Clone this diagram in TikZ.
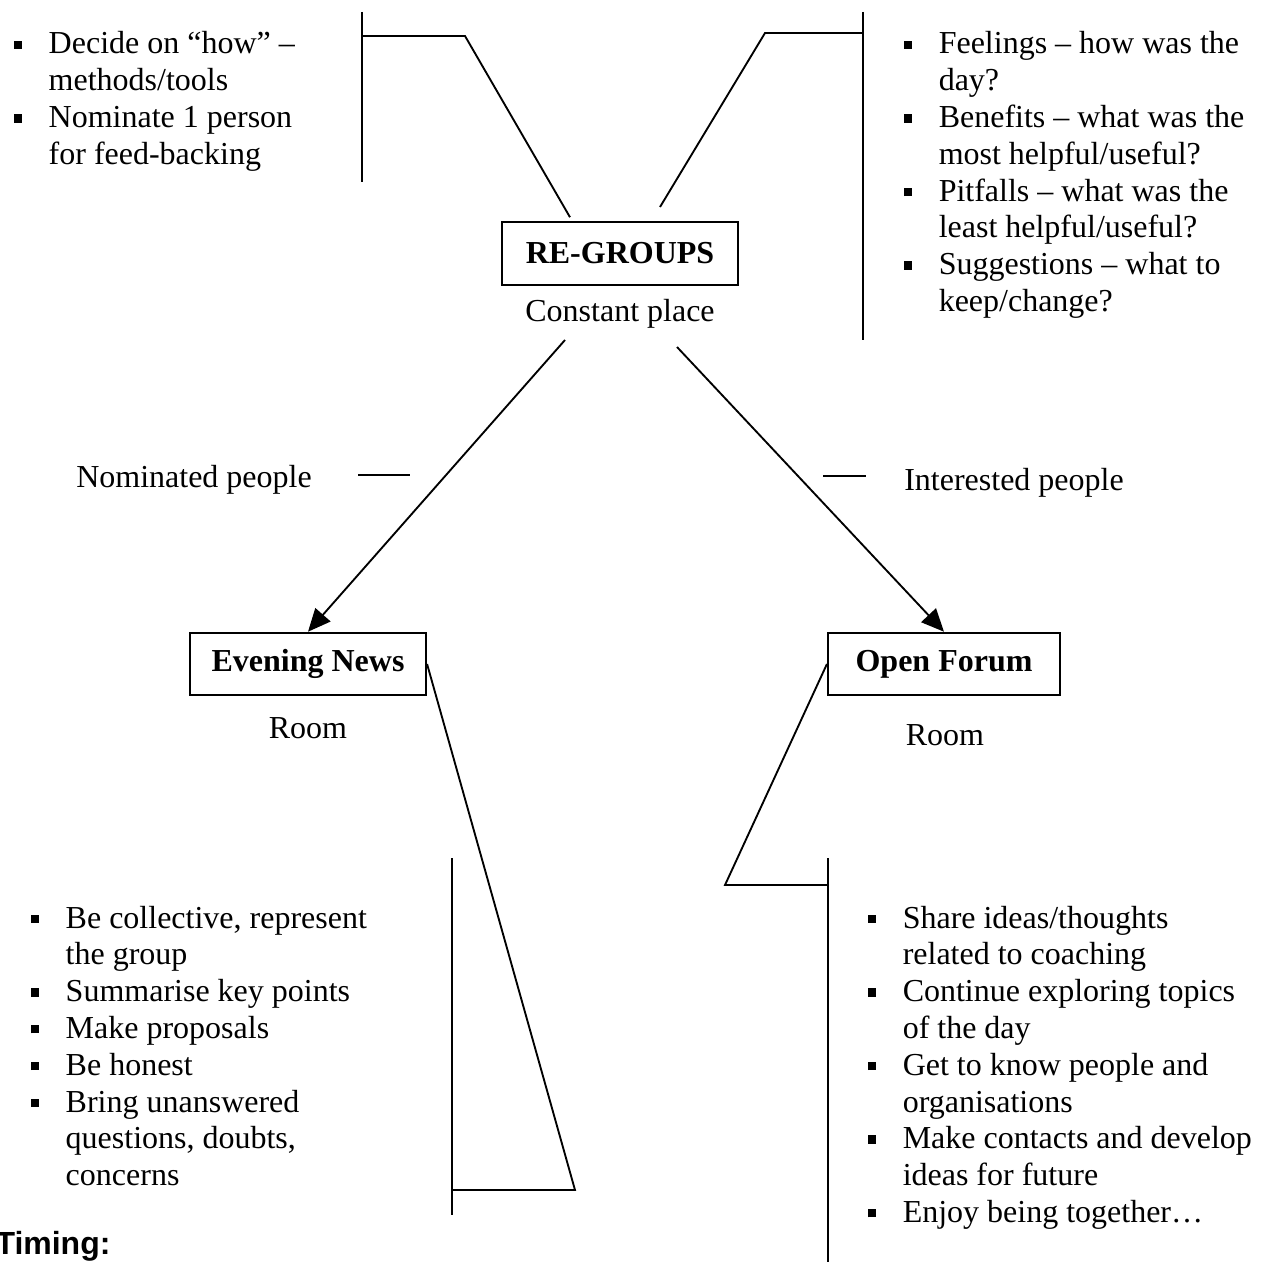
\documentclass[tikz,border=0pt]{standalone}
\usepackage{fontspec}
\setmainfont{Liberation Serif}
\newfontfamily\headfont{Liberation Sans}
\usetikzlibrary{arrows.meta, calc, positioning}

% square list bullet
\newcommand{\blt}{\makebox[13.2pt][l]{\rule[1.9pt]{3.1pt}{3.1pt}}}

\begin{document}
\begin{tikzpicture}[x=0.375pt, y=-0.375pt, >={Triangle[length=8.5pt, width=7.5pt]},
    every node/.style={font=\fontsize{12}{13.8}\selectfont},
    box/.style={draw, line width=0.8pt, inner sep=0pt, minimum width=88.5pt,
        minimum height=23.4pt, font=\fontsize{12}{13.8}\selectfont\bfseries},
    caption/.style={inner sep=0pt},
    bullets/.style={inner sep=0pt, anchor=base west},
    conn/.style={line width=0.7pt}]
    \useasboundingbox (0,0) rectangle (1268,1262);

    % Main boxes
    \node[box] (regroups) at (620,253.5) {RE-GROUPS};
    \node[caption] (constant) at (620,314) {Constant place};
    \node[box] (evening) at (308,664) {Evening News};
    \node[caption] (roomleft) at (308,728) {Room};
    \node[box, minimum width=87pt] (forum) at (944,664) {Open Forum};
    \node[caption] (roomright) at (945,735) {Room};

    % Who goes where
    \node[caption] (nominated) at (194,480) {Nominated people};
    \node[caption] (interested) at (1014,483) {Interested people};
    \draw[conn] (358,475) -- (410,475);
    \draw[conn] (823,476) -- (866,476);

    \coordinate (newsstart) at (565,340);
    \coordinate (forumstart) at (677,347);
    \draw[->, conn] (newsstart) -- (evening.north);
    \draw[->, conn] (forumstart) -- (forum.north);

    % Re-group tasks (top left)
    \node[bullets] (howlist) at (13,54) {\begin{tabular}[t]{@{}l@{}l@{}}
        \blt & Decide on “how” – \\
             & methods/tools \\
        \blt & Nominate 1 person \\
             & for feed-backing
    \end{tabular}};
    \draw[conn] (362,12) -- (362,182);
    \coordinate (howknee) at (465,36);
    \draw[conn] ($(regroups.north west)!0.29!(regroups.north east)+(0,-4)$) -- (howknee) -- (362,36);

    % Review questions (top right)
    \node[bullets] (reviewlist) at (903,54) {\begin{tabular}[t]{@{}l@{}l@{}}
        \blt & Feelings – how was the \\
             & day? \\
        \blt & Benefits – what was the \\
             & most helpful/useful? \\
        \blt & Pitfalls – what was the \\
             & least helpful/useful? \\
        \blt & Suggestions – what to \\
             & keep/change?
    \end{tabular}};
    \draw[conn] (863,12) -- (863,340);
    \coordinate (reviewfoot) at (660,207);
    \coordinate (reviewknee) at (765,33);
    \draw[conn] (reviewfoot) -- (reviewknee) -- (863,33);

    % Evening news tasks (bottom left)
    \node[bullets] (newslist) at (30,928) {\begin{tabular}[t]{@{}l@{}l@{}}
        \blt & Be collective, represent \\
             & the group \\
        \blt & Summarise key points \\
        \blt & Make proposals \\
        \blt & Be honest \\
        \blt & Bring unanswered \\
             & questions, doubts, \\
             & concerns
    \end{tabular}};
    \draw[conn] (452,858) -- (452,1215);
    \coordinate (newsknee) at (575,1190);
    \draw[conn] (evening.east) -- (newsknee) -- (452,1190);

    % Open forum aims (bottom right)
    \node[bullets] (forumlist) at (867,928) {\begin{tabular}[t]{@{}l@{}l@{}}
        \blt & Share ideas/thoughts \\
             & related to coaching \\
        \blt & Continue exploring topics \\
             & of the day \\
        \blt & Get to know people and \\
             & organisations \\
        \blt & Make contacts and develop \\
             & ideas for future \\
        \blt & Enjoy being together…
    \end{tabular}};
    \draw[conn] (828,858) -- (828,1262);
    \coordinate (forumknee) at (725,885);
    \draw[conn] (forum.west) -- (forumknee) -- (828,885);

    % Timing
    \node[bullets, font=\fontsize{12}{13.8}\selectfont\headfont\bfseries] (timing) at (-5,1254) {Timing:};
\end{tikzpicture}
\end{document}
